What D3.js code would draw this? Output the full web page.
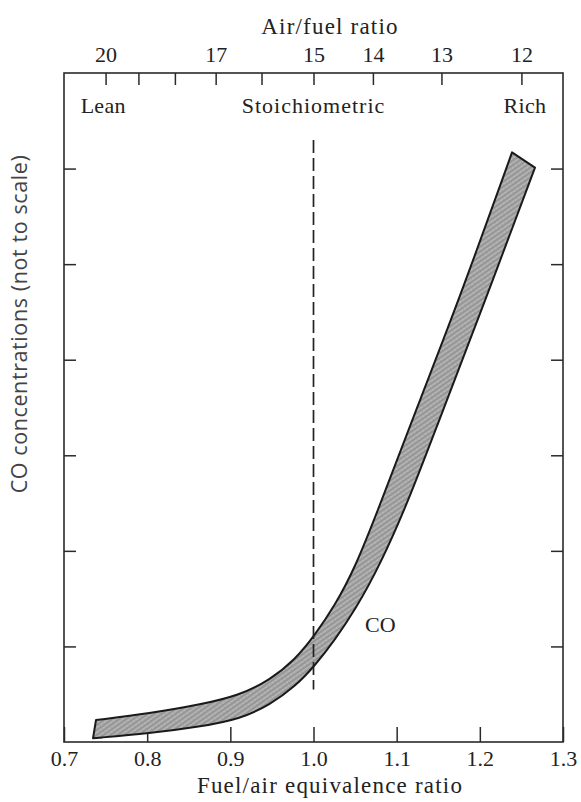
<!DOCTYPE html>
<html>
<head>
<meta charset="utf-8">
<script src="https://cdn.jsdelivr.net/npm/d3@7"></script>
<style>
  html, body { margin: 0; padding: 0; background: #fff; }
  svg { display: block; }
  .serif { font-family: "Liberation Serif", "DejaVu Serif", serif; fill: #222; }
</style>
</head>
<body>
<svg id="chart" width="581" height="802"></svg>
<script>
// Fuel/air equivalence ratio axis (bottom)
const phiTicks = [0.7, 0.8, 0.9, 1.0, 1.1, 1.2, 1.3];
// Air/fuel ratio axis (top): labelled and unlabelled ticks
const afrTicks = [20, 19, 18, 17, 16, 15, 14, 13, 12];
const afrLabels = [20, 17, 15, 14, 13, 12];
const STOICH_AFR = 15;
// CO concentration axis ticks (arbitrary units, not to scale)
const coTicks = [1, 2, 3, 4, 5, 6];
// Mixture regions along the top
const regionNames = ["Lean", "Stoichiometric", "Rich"];
const regionPhi = [0.72, 1.0, 1.28];

// Upper (lean-side) boundary of the CO band
const upperPhi = [0.7385, 0.8034, 0.8635, 0.9116, 0.9477, 0.9778, 1.0018, 1.0258, 1.0499, 1.080, 1.128, 1.176, 1.2387];
const upperCO  = [0.23, 0.30, 0.39, 0.49, 0.65, 0.86, 1.12, 1.43, 1.82, 2.48, 3.58, 4.65, 6.17];
// Lower (rich-side) boundary of the CO band
const lowerPhi = [0.7349, 0.8034, 0.8635, 0.9116, 0.9477, 0.9778, 1.0018, 1.0258, 1.0499, 1.080, 1.116, 1.152, 1.200, 1.2663];
const lowerCO  = [0.04, 0.09, 0.16, 0.24, 0.39, 0.58, 0.80, 1.07, 1.38, 1.85, 2.56, 3.39, 4.47, 6.01];

// Stoichiometric marker extent
const stoichLine = { phi: 1.0, from: 0.55, to: 6.3 };
const curveLabel = { text: "CO", phi: 1.062, co: 1.15 };

const W = 581, H = 802;
const m = { left: 64, right: 18, top: 73, bottom: 60 };
const iw = W - m.left - m.right, ih = H - m.top - m.bottom;

const svg = d3.select("#chart");

// band texture: fine cross-hatched stipple
const defs = svg.append("defs");
const pat = defs.append("pattern")
  .attr("id", "stipple").attr("patternUnits", "userSpaceOnUse")
  .attr("width", 4).attr("height", 4)
  .attr("patternTransform", "rotate(-35)");
pat.append("rect").attr("width", 4).attr("height", 4).attr("fill", "#c6c6c6");
pat.append("path").attr("d", "M0,1 L4,1").attr("stroke", "#666").attr("stroke-width", 1);
pat.append("path").attr("d", "M1,0 L1,4").attr("stroke", "#959595").attr("stroke-width", 0.7);
pat.append("rect").attr("x", 2.6).attr("y", 2.6).attr("width", 0.9).attr("height", 0.9).attr("fill", "#4a4a4a");

const g = svg.append("g").attr("transform", `translate(${m.left},${m.top})`);

const x = d3.scaleLinear().domain([0.7, 1.3]).range([0, iw]);
const y = d3.scaleLinear().domain([0, 7]).range([ih, 0]);
// air/fuel ratio is inversely proportional to the equivalence ratio
const xAfr = d3.scalePow().exponent(-1)
  .domain([STOICH_AFR / 0.7, STOICH_AFR / 1.3]).range([0, iw]);

// frame
g.append("rect").attr("width", iw).attr("height", ih)
  .attr("fill", "none").attr("stroke", "#2a2a2a").attr("stroke-width", 1.6);

// bottom axis
const bx = g.append("g").attr("transform", `translate(0,${ih})`)
  .call(d3.axisBottom(x).tickValues(phiTicks).tickFormat(d3.format(".1f"))
    .tickSizeInner(-15).tickSizeOuter(0).tickPadding(8));
// top axis
const tx = g.append("g")
  .call(d3.axisTop(xAfr).tickValues(afrTicks)
    .tickFormat(d => afrLabels.includes(d) ? d : "")
    .tickSizeInner(-12).tickSizeOuter(0).tickPadding(11));
// left and right axes (ticks only)
const ly = g.append("g")
  .call(d3.axisLeft(y).tickValues(coTicks).tickFormat("").tickSizeInner(-12).tickSizeOuter(0));
const ry = g.append("g").attr("transform", `translate(${iw},0)`)
  .call(d3.axisRight(y).tickValues(coTicks).tickFormat("").tickSizeInner(-12).tickSizeOuter(0));

[bx, tx, ly, ry].forEach(a => {
  a.select(".domain").remove();
  a.selectAll(".tick line").attr("stroke", "#2a2a2a").attr("stroke-width", 1.5);
  a.selectAll(".tick text").attr("class", "serif").attr("font-size", 22).attr("fill", "#222");
});

// CO band: smooth boundaries joined into one closed outline
const line = d3.line().x(d => x(d[0])).y(d => y(d[1])).curve(d3.curveBasis);
const upperPts = upperPhi.map((p, i) => [p, upperCO[i]]);
const lowerPts = lowerPhi.map((p, i) => [p, lowerCO[i]]);
const bandPath = line(upperPts) + line(lowerPts.slice().reverse()).replace(/^M/, "L") + "Z";
g.append("path").attr("d", bandPath)
  .attr("fill", "url(#stipple)").attr("stroke", "#1a1a1a").attr("stroke-width", 2)
  .attr("stroke-linejoin", "round");

// stoichiometric dashed line
g.append("line")
  .attr("x1", x(stoichLine.phi)).attr("x2", x(stoichLine.phi))
  .attr("y1", y(stoichLine.to)).attr("y2", y(stoichLine.from))
  .attr("stroke", "#222").attr("stroke-width", 1.7).attr("stroke-dasharray", "13,5");

// curve label
g.append("text").attr("class", "serif").attr("font-size", 22)
  .attr("x", x(curveLabel.phi)).attr("y", y(curveLabel.co)).text(curveLabel.text);

// region labels
const anchors = ["start", "middle", "end"];
regionNames.forEach((name, i) => {
  g.append("text").attr("class", "serif").attr("font-size", 22)
    .attr("letter-spacing", i === 1 ? 1 : 0.3)
    .attr("x", x(regionPhi[i])).attr("y", 40).attr("text-anchor", anchors[i]).text(name);
});

// axis titles
svg.append("text").attr("class", "serif").attr("font-size", 23).attr("letter-spacing", 1.2)
  .attr("x", 330).attr("y", 34).attr("text-anchor", "middle").text("Air/fuel ratio");
svg.append("text").attr("class", "serif").attr("font-size", 23).attr("letter-spacing", 1.2)
  .attr("x", 330).attr("y", 793).attr("text-anchor", "middle").text("Fuel/air equivalence ratio");
svg.append("text")
  .attr("transform", "translate(27,324) rotate(-90)")
  .attr("text-anchor", "middle")
  .attr("font-family", "'Open Sans', sans-serif").attr("font-size", 21.5).attr("fill", "#444")
  .attr("letter-spacing", 0.6)
  .text("CO concentrations (not to scale)");
</script>
</body>
</html>
